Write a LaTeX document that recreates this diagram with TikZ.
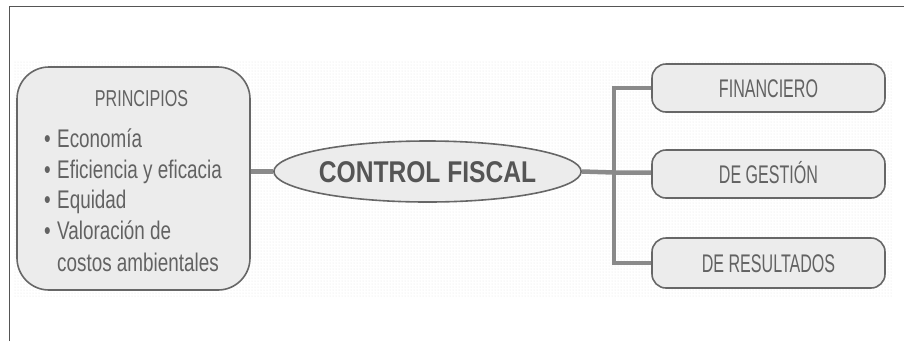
\documentclass[tikz,border=0pt]{standalone}
\usepackage{fontspec}
\setmainfont{Liberation Sans}
\newfontfamily\lblfont[FakeStretch=0.63]{Liberation Sans}
\newfontfamily\ttlfont[FakeStretch=0.70]{Liberation Sans}
\newfontfamily\itmfont[FakeStretch=0.74]{Liberation Sans}
\newfontfamily\ctrfont[FakeStretch=0.82]{Liberation Sans Bold}
\usetikzlibrary{patterns,shapes.geometric,backgrounds}
\definecolor{txt}{HTML}{626262}
\definecolor{edge}{HTML}{676767}
\definecolor{boxfill}{HTML}{ECECEC}
\definecolor{conncol}{HTML}{8A8A8A}
\definecolor{framecol}{HTML}{555555}
\tikzset{
  rbox/.style={draw=edge, line width=1.6pt, fill=boxfill, rounded corners=14pt,
    minimum width=233pt, minimum height=48pt, inner sep=0pt,
    text height=18pt, text depth=0pt, text=txt,
    font=\lblfont\fontsize{25.5}{25.5}\selectfont},
  conn/.style={draw=conncol, line width=4.5pt},
  item/.style={anchor=base west, inner sep=0pt, text=txt,
    font=\itmfont\fontsize{25.5}{25.5}\selectfont},
}
\begin{document}
\begin{tikzpicture}[x=1pt, y=-1pt]
\useasboundingbox (0,0) rectangle (904,341);
% frame
\draw[framecol, line width=1.5pt] (9.5,341) -- (9.5,6.5) -- (904,6.5);
% principios box
\node[draw=edge, line width=1.6pt, fill=boxfill, rounded corners=32pt,
  minimum width=233pt, minimum height=223pt, inner sep=0pt] (princ) at (133.5,178.5) {};
\node[anchor=base, inner sep=0pt, text=txt, font=\ttlfont\fontsize{23}{23}\selectfont]
  (ptitle) at (141.5,106.5) {PRINCIPIOS};
\node[item] (b1) at (44,147) {•};
\node[item] (i1) at (57,147) {Economía};
\node[item] (b2) at (44,178) {•};
\node[item] (i2) at (57,178) {Eficiencia y eficacia};
\node[item] (b3) at (44,208) {•};
\node[item] (i3) at (57,208) {Equidad};
\node[item] (b4) at (44,239) {•};
\node[item] (i4) at (57,239) {Valoración de};
\node[item] (i5) at (57,271) {costos ambientales};
% ellipse
\node[ellipse, draw=edge, line width=1.6pt, fill=boxfill, minimum width=291pt,
  minimum height=61pt, inner sep=0pt, text height=21.5pt, text depth=0pt,
  text=framecol, font=\ctrfont\fontsize{30}{30}\selectfont] (ctrl) at (427.5,171.5) {CONTROL FISCAL};
% right boxes
\node[rbox] (fin) at (768.5,88) {FINANCIERO};
\node[rbox] (ges) at (768.5,174) {DE GESTIÓN};
\node[rbox, minimum height=50pt] (res) at (768.5,263) {DE RESULTADOS};
% connectors and dotted background behind the nodes
\begin{scope}[on background layer]
\fill[pattern=dots, pattern color=black!12] (13,60) rectangle (892,296);
\draw[conn] (ctrl.west -| princ.east) -- (ctrl.west);
\coordinate (bus) at (614,172.5);
\draw[conn] (ctrl.east) -- (bus) -- (bus -| ges.west);
\draw[conn] (fin.west) -| (bus) |- (res.west);
\end{scope}
\end{tikzpicture}
\end{document}
